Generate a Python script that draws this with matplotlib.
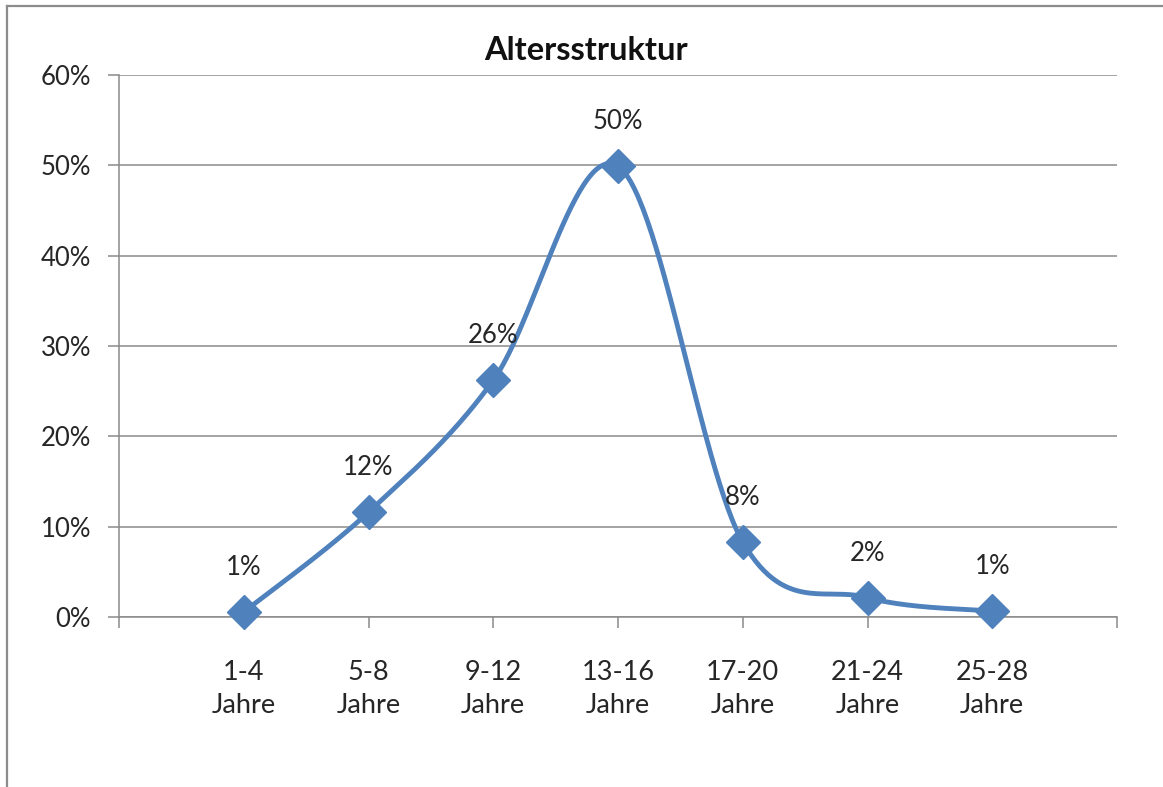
import numpy as np
import matplotlib
matplotlib.use("Agg")
import matplotlib.pyplot as plt
from matplotlib.lines import Line2D
from matplotlib.ticker import MultipleLocator, FuncFormatter

# Age groups and their shares of members
categories = ["1-4\nJahre", "5-8\nJahre", "9-12\nJahre", "13-16\nJahre",
              "17-20\nJahre", "21-24\nJahre", "25-28\nJahre"]
shares = [0.0055, 0.116, 0.262, 0.499, 0.083, 0.0215, 0.0065]
title = "Altersstruktur"

BLUE = "#4F81BD"
GRID = "#8A8A8A"
FONT = "Lato"

plt.rcParams["font.family"] = [FONT, "DejaVu Sans"]


def smooth_curve(xs, ys, steps=60):
    """Cubic Bezier smoothing through every point (Catmull-Rom style)."""
    p = np.column_stack([xs, ys]).astype(float)
    ext = np.vstack([p[0], p, p[-1]])
    out = []
    t = np.linspace(0, 1, steps)[:, None]
    for i in range(len(p) - 1):
        p0, p1 = ext[i + 1], ext[i + 2]
        c1 = p0 + (ext[i + 2] - ext[i]) / 6.0
        c2 = p1 - (ext[i + 3] - ext[i + 1]) / 6.0
        seg = ((1 - t) ** 3) * p0 + 3 * ((1 - t) ** 2) * t * c1 \
            + 3 * (1 - t) * t ** 2 * c2 + t ** 3 * p1
        out.append(seg if i == 0 else seg[1:])
    out = np.vstack(out)
    return out[:, 0], out[:, 1]


W, H = 1163, 787
fig = plt.figure(figsize=(W / 100, H / 100), dpi=100)
fig.patch.set_facecolor("white")

left, right, top, bottom = 119, 1117, 75, 617
ax = fig.add_axes([left / W, 1 - bottom / H, (right - left) / W, (bottom - top) / H])

x = np.arange(1, len(categories) + 1)
sx, sy = smooth_curve(x, shares)
ax.plot(sx, sy, color=BLUE, lw=3.5, solid_capstyle="round", zorder=3, clip_on=False)
ax.plot(x, shares, linestyle="none", marker="D", markersize=17.5, color=BLUE,
        zorder=4, clip_on=False)

for xi, v in zip(x, shares):
    ax.annotate(f"{v:.0%}", (xi, v), xytext=(0, 32), textcoords="offset points",
                ha="center", va="center", fontsize=18.5, color="#262626", zorder=5)

ax.set_xlim(0, len(categories) + 1)
ax.set_ylim(0, 0.6)
ax.yaxis.set_major_locator(MultipleLocator(0.1))
ax.yaxis.set_major_formatter(FuncFormatter(lambda v, _: f"{v:.0%}"))
ax.set_xticks(np.arange(0, len(categories) + 2))
ax.set_xticklabels([""] + categories + [""])

ax.grid(axis="y", color=GRID, lw=1.1, zorder=1)
ax.set_axisbelow(True)
for s in ("top", "right"):
    ax.spines[s].set_visible(False)
for s in ("left", "bottom"):
    ax.spines[s].set_color(GRID)
    ax.spines[s].set_linewidth(1.1)

ax.tick_params(axis="y", direction="out", length=8, width=1.1, color=GRID,
               pad=12, labelsize=18.5, labelcolor="#262626")
ax.tick_params(axis="x", direction="out", length=8, width=1.1, color=GRID,
               pad=23, labelsize=19.5, labelcolor="#262626")
for lab in ax.get_xticklabels():
    lab.set_multialignment("center")
    lab.set_linespacing(1.4)

fig.text(586.5 / W, 1 - 60 / H, title, ha="center", va="baseline",
         fontsize=23.5, fontweight="bold", color="#111111")

# chart area frame (left and top edges)
fig.add_artist(Line2D([7 / W, 7 / W], [0, 1 - 6 / H], transform=fig.transFigure,
                      color="#8C8C8C", lw=1.6))
fig.add_artist(Line2D([7 / W, 1], [1 - 6 / H, 1 - 6 / H], transform=fig.transFigure,
                      color="#8C8C8C", lw=1.6))

fig.savefig("out.png", dpi=100)
